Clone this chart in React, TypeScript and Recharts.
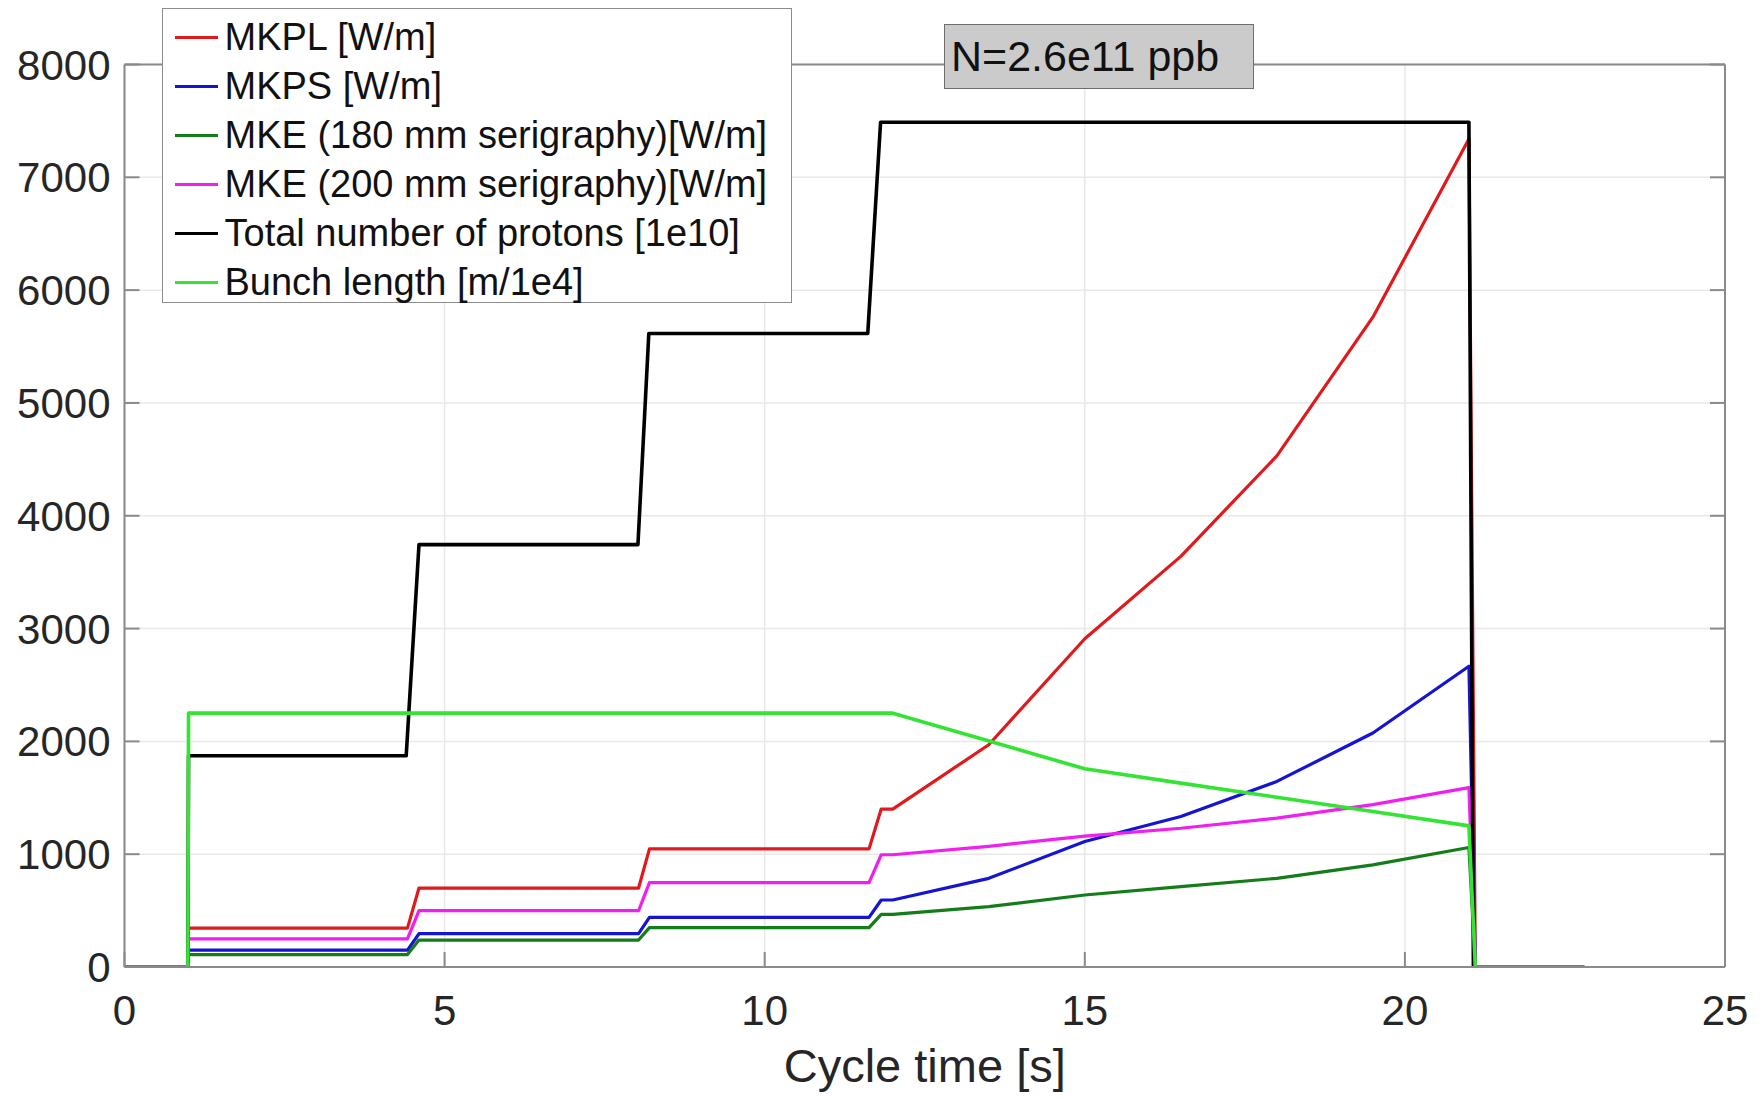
import React from 'react';
import { LineChart, Line, XAxis, YAxis, CartesianGrid, Legend } from 'recharts';

// ---------- layout (not data) ----------
const W = 1762;
const H = 1098;
// axes are given 1px of size each so that Recharts renders them
const MARGIN = { top: 63.5, right: 36, bottom: 130, left: 123.5 };
const FONT = '"Liberation Sans", Arial, Helvetica, sans-serif';
const AXIS_COLOR = '#8a8a8a';
const GRID_COLOR = '#e8e8e8';
const TEXT_COLOR = '#262626';
const TICK_LEN = 15;

// ---------- data ----------
const xTicks = [0, 5, 10, 15, 20, 25];
const yTicks = [0, 1000, 2000, 3000, 4000, 5000, 6000, 7000, 8000];

const kickerTimes = [0, 0.99, 1.0, 4.42, 4.6, 8.03, 8.2, 11.63, 11.82, 12.0, 13.5, 15.0, 16.5, 18.0, 19.5, 21.0, 21.1, 22.8];
const mkplValues = [0, 0, 345, 345, 700, 700, 1047, 1047, 1400, 1400, 1970, 2910, 3640, 4530, 5760, 7340, 0, 0];
const mkpsValues = [0, 0, 150, 150, 295, 295, 440, 440, 594, 594, 786, 1112, 1334, 1645, 2074, 2666, 0, 0];
const mke180Values = [0, 0, 110, 110, 239, 239, 349, 349, 467, 467, 535, 638, 713, 786, 905, 1059, 0, 0];
const mke200Values = [0, 0, 250, 250, 499, 499, 748, 748, 995, 995, 1070, 1160, 1230, 1320, 1440, 1590, 0, 0];

const protonTimes = [0, 0.99, 1.0, 4.4, 4.6, 8.02, 8.19, 11.61, 11.81, 21.0, 21.07, 22.8];
const protonValues = [0, 0, 1872, 1872, 3744, 3744, 5616, 5616, 7488, 7488, 0, 0];

const bunchTimes = [0, 0.99, 1.0, 12.0, 15.0, 16.5, 18.0, 19.5, 21.0, 21.1, 22.8];
const bunchValues = [0, 0, 2250, 2250, 1757, 1630, 1505, 1378, 1251, 0, 0];

const annotationText = 'N=2.6e11 ppb';
const xAxisTitle = 'Cycle time [s]';

const zip = (t: number[], v: number[]) => t.map((x, i) => ({ x, y: v[i] }));

const SERIES = [
  { name: 'MKPL [W/m]', color: '#e01a1c', width: 3.2, t: kickerTimes, v: mkplValues },
  { name: 'MKPS [W/m]', color: '#1414d2', width: 3.2, t: kickerTimes, v: mkpsValues },
  { name: 'MKE (180 mm serigraphy)[W/m]', color: '#137d19', width: 3.2, t: kickerTimes, v: mke180Values },
  { name: 'MKE (200 mm serigraphy)[W/m]', color: '#f01ef0', width: 3.2, t: kickerTimes, v: mke200Values },
  { name: 'Total number of protons [1e10]', color: '#000000', width: 3.6, t: protonTimes, v: protonValues },
  { name: 'Bunch length [m/1e4]', color: '#33e433', width: 3.6, t: bunchTimes, v: bunchValues },
];

// ---------- axis ticks (MATLAB style: inward) ----------
const BottomTick = (p: any) => (
  <g>
    <line x1={p.x} y1={p.y} x2={p.x} y2={p.y - TICK_LEN} stroke={AXIS_COLOR} strokeWidth={2} />
    <text x={p.x} y={p.y + 58} textAnchor="middle" fontSize={42} fontFamily={FONT} fill={TEXT_COLOR}>
      {p.payload.value}
    </text>
  </g>
);
const TopTick = (p: any) => (
  <line x1={p.x} y1={p.y} x2={p.x} y2={p.y + TICK_LEN} stroke={AXIS_COLOR} strokeWidth={2} />
);
const LeftTick = (p: any) => (
  <g>
    <line x1={p.x} y1={p.y} x2={p.x + TICK_LEN} y2={p.y} stroke={AXIS_COLOR} strokeWidth={2} />
    <text x={p.x - 14} y={p.y + 15} textAnchor="end" fontSize={42} fontFamily={FONT} fill={TEXT_COLOR}>
      {p.payload.value}
    </text>
  </g>
);
const RightTick = (p: any) => (
  <line x1={p.x} y1={p.y} x2={p.x - TICK_LEN} y2={p.y} stroke={AXIS_COLOR} strokeWidth={2} />
);

const renderLegend = (props: any) => {
  const payload: any[] = props.payload || [];
  const order = SERIES.map((s) => s.name);
  const items = [...payload].sort((a, b) => order.indexOf(a.value) - order.indexOf(b.value));
  return (
    <div
      style={{
        width: 630,
        height: 295,
        boxSizing: 'border-box',
        border: '1.5px solid #8c8c8c',
        background: '#ffffff',
        fontFamily: FONT,
        fontSize: 38,
        color: '#111',
        paddingTop: 3,
      }}
    >
      {items.map((e) => (
        <div key={e.value} style={{ display: 'flex', alignItems: 'center', height: 49, lineHeight: '49px', whiteSpace: 'nowrap' }}>
          <span style={{ display: 'inline-block', width: 43, height: 3, background: e.color, marginLeft: 11.5, marginRight: 7, marginTop: 1 }} />
          <span style={{ position: 'relative', top: 1 }}>{e.value}</span>
        </div>
      ))}
    </div>
  );
};

export default function App() {
  return (
    <div style={{ position: 'absolute', left: 0, top: 0, width: W, height: H, background: '#fff' }}>
      <LineChart width={W} height={H} margin={MARGIN}>
        <CartesianGrid stroke={GRID_COLOR} strokeWidth={1.5} />
        <XAxis
          dataKey="x"
          type="number"
          domain={[0, 25]}
          ticks={xTicks}
          allowDataOverflow
          height={1}
          tickSize={0}
          tickMargin={0}
          tickLine={false}
          axisLine={{ stroke: AXIS_COLOR, strokeWidth: 2 }}
          tick={BottomTick}
          interval={0}
          label={{ value: xAxisTitle, position: 'bottom', offset: 81, fontSize: 47, fontFamily: FONT, fill: TEXT_COLOR }}
        />
        <XAxis
          xAxisId="top"
          orientation="top"
          type="number"
          domain={[0, 25]}
          ticks={xTicks}
          allowDataOverflow
          height={1}
          tickSize={0}
          tickMargin={0}
          tickLine={false}
          axisLine={{ stroke: AXIS_COLOR, strokeWidth: 2 }}
          tick={TopTick}
          interval={0}
        />
        <YAxis
          type="number"
          domain={[0, 8000]}
          ticks={yTicks}
          allowDataOverflow
          width={1}
          tickSize={0}
          tickMargin={0}
          tickLine={false}
          axisLine={{ stroke: AXIS_COLOR, strokeWidth: 2 }}
          tick={LeftTick}
          interval={0}
        />
        <YAxis
          yAxisId="right"
          orientation="right"
          type="number"
          domain={[0, 8000]}
          ticks={yTicks}
          allowDataOverflow
          width={1}
          tickSize={0}
          tickMargin={0}
          tickLine={false}
          axisLine={{ stroke: AXIS_COLOR, strokeWidth: 2 }}
          tick={RightTick}
          interval={0}
        />
        {SERIES.map((s) => (
          <Line
            key={s.name}
            data={zip(s.t, s.v)}
            dataKey="y"
            name={s.name}
            type="linear"
            stroke={s.color}
            strokeWidth={s.width}
            strokeLinejoin="round"
            dot={false}
            activeDot={false}
            isAnimationActive={false}
          />
        ))}
        <Legend
          layout="vertical"
          align="center"
          verticalAlign="middle"
          width={630}
          height={295}
          wrapperStyle={{ left: 162, top: 8, width: 630, height: 295 }}
          content={renderLegend}
        />
      </LineChart>
      <div
        style={{
          position: 'absolute',
          left: 944,
          top: 24,
          width: 310,
          height: 65,
          boxSizing: 'border-box',
          background: '#cbcbcb',
          border: '1.5px solid #6e6e6e',
          fontFamily: FONT,
          fontSize: 43,
          lineHeight: '63px',
          paddingLeft: 6,
          color: '#111',
          whiteSpace: 'nowrap',
        }}
      >
        {annotationText}
      </div>
    </div>
  );
}
